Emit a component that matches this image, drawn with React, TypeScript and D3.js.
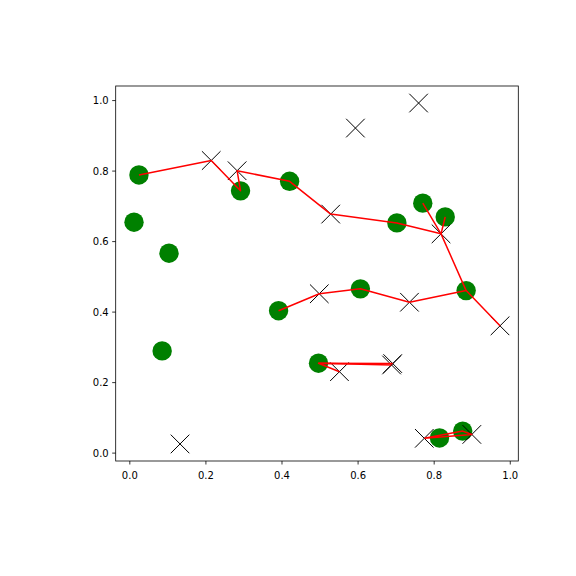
import React from 'react';
import * as d3 from 'd3';

// Green circles
const circleIds = ['c1','c2','c3','c4','c5','c6','c7','c8','c9','c10','c11','c12','c13','c14','c15'];
const circleX = [0.024, 0.011, 0.103, 0.085, 0.291, 0.420, 0.391, 0.496, 0.606, 0.702, 0.770, 0.829, 0.884, 0.814, 0.875];
const circleY = [0.789, 0.655, 0.567, 0.290, 0.744, 0.771, 0.404, 0.255, 0.466, 0.653, 0.709, 0.670, 0.461, 0.043, 0.0625];

// Black crosses
const crossIds = ['a','b','c','d','e','f','g','h','i','j','k1','k2','l','m','n'];
const crossX = [0.214, 0.282, 0.593, 0.759, 0.528, 0.818, 0.498, 0.735, 0.973, 0.551, 0.691, 0.688, 0.132, 0.774, 0.899];
const crossY = [0.830, 0.801, 0.922, 0.993, 0.678, 0.622, 0.452, 0.428, 0.361, 0.231, 0.254, 0.250, 0.026, 0.042, 0.053];

// Red connecting paths (by point id)
const redPaths = [
  ['c1','a','c5','b','c6','e','c10','f','c13','i'],
  ['f','c11'],
  ['f','c12'],
  ['c7','g','c9','h','c13'],
  ['j','c8','k1'],
  ['c8','k2'],
  ['m','c15','n','m'],
];

const xTicks = [0.0, 0.2, 0.4, 0.6, 0.8, 1.0];
const yTicks = [0.0, 0.2, 0.4, 0.6, 0.8, 1.0];

const W = 576, H = 576;
const left = 115.7, right = 518.3, top = 86, bottom = 461;

export default function App() {
  const allX = [...circleX, ...crossX];
  const allY = [...circleY, ...crossY];
  const [x0, x1] = d3.extent(allX) as [number, number];
  const [y0, y1] = d3.extent(allY) as [number, number];
  const mx = (x1 - x0) * 0.05, my = (y1 - y0) * 0.05;
  const x = d3.scaleLinear().domain([x0 - mx, x1 + mx]).range([left, right]);
  const y = d3.scaleLinear().domain([y0 - my, y1 + my]).range([bottom, top]);

  const pts: Record<string, [number, number]> = {};
  circleIds.forEach((id, i) => (pts[id] = [circleX[i], circleY[i]]));
  crossIds.forEach((id, i) => (pts[id] = [crossX[i], crossY[i]]));

  const line = d3.line<[number, number]>().x(d => x(d[0])).y(d => y(d[1]));
  const s = 9.3;
  const font = 'DejaVu Sans, sans-serif';

  return (
    <svg width={W} height={H} style={{ position: 'absolute', left: 0, top: 0, background: '#fff' }}>
      <rect x={0} y={0} width={W} height={H} fill="#fff" />
      {circleX.map((cx, i) => (
        <circle key={'c' + i} cx={x(cx)} cy={y(circleY[i])} r={9.7} fill="#008000" />
      ))}
      {crossX.map((cx, i) => {
        const px = x(cx), py = y(crossY[i]);
        return (
          <path key={'x' + i}
            d={`M${px - s},${py - s}L${px + s},${py + s}M${px - s},${py + s}L${px + s},${py - s}`}
            stroke="#000" strokeWidth={1} fill="none" />
        );
      })}
      {redPaths.map((p, i) => (
        <path key={'r' + i} d={line(p.map(id => pts[id])) || ''} stroke="#ff0000" strokeWidth={1.5} fill="none" strokeLinejoin="round" />
      ))}
      <rect x={left} y={top} width={right - left} height={bottom - top} fill="none" stroke="#000" strokeWidth={0.8} />
      {xTicks.map(t => (
        <g key={'xt' + t}>
          <line x1={x(t)} x2={x(t)} y1={bottom} y2={bottom + 3.5} stroke="#000" strokeWidth={0.8} />
          <text x={x(t)} y={bottom + 17.5} textAnchor="middle" fontFamily={font} fontSize={10} fill="#000">{t.toFixed(1)}</text>
        </g>
      ))}
      {yTicks.map(t => (
        <g key={'yt' + t}>
          <line x1={left - 3.5} x2={left} y1={y(t)} y2={y(t)} stroke="#000" strokeWidth={0.8} />
          <text x={left - 7} y={y(t)} dy="0.35em" textAnchor="end" fontFamily={font} fontSize={10} fill="#000">{t.toFixed(1)}</text>
        </g>
      ))}
    </svg>
  );
}
